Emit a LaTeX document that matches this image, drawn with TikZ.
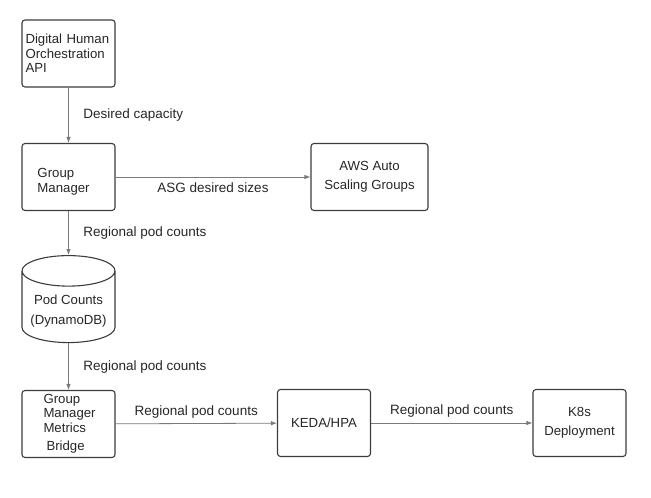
\documentclass[tikz,border=0pt]{standalone}
\usepackage{fontspec}
\setmainfont{Liberation Sans}
\usetikzlibrary{arrows.meta,shapes.geometric}
\definecolor{boxgray}{HTML}{3C3C3C}
\definecolor{edgegray}{HTML}{7A7A7A}
\tikzset{
	block/.style={draw=boxgray, line width=1.1pt, rounded corners=3pt, minimum width=93pt, minimum height=67pt, inner sep=0pt, text=black!85, font=\fontsize{13.2}{14.5}\selectfont},
	store/.style={draw=boxgray, line width=1.1pt, cylinder, shape border rotate=90, aspect=0.4, minimum width=93pt, minimum height=87pt, inner sep=0pt, text=black!85, font=\fontsize{13.2}{20}\selectfont},
	flow/.style={draw=edgegray, line width=0.8pt, -{Latex[length=6pt,width=4.5pt]}},
	lbl/.style={inner sep=0pt, text=black!85, font=\fontsize{13.5}{15}\selectfont},
}

\begin{document}
\begin{tikzpicture}[x=1pt, y=-1pt]
			%%%%% START %%%%%
			
			\useasboundingbox (0, 0) rectangle (651, 498);
			
			\node[block, align=left, text width=86pt] (api) at (68.5, 53.5) {Digital Human\\Orchestration\\API};
			\node[block, align=left, text width=62pt, text height=14pt, text depth=13pt] (gm) at (68.5, 177) {Group\\Manager};
			\node[block, minimum width=117pt, align=center, font=\fontsize{13.2}{19}\selectfont] (asg) at (369.5, 177) {AWS Auto\\Scaling Groups};
			
			\node[store, align=center, text height=34pt, text depth=-2pt] (pods) at (68.5, 307) {Pod Counts\\(DynamoDB)};
			
			\node[block, align=left, text width=50pt] (bridge) at (68.5, 424) {Group\\Manager\\Metrics\\[4pt]\hspace{3pt}Bridge};
			\node[block] (keda) at (324, 423) {KEDA/HPA};
			\node[block, align=center, font=\fontsize{13.2}{19}\selectfont] (k8s) at (579.5, 423) {K8s\\Deployment};
			
			\draw[flow] (api) -- node[lbl, anchor=west, xshift=14.5pt] {Desired capacity} (gm);
			\draw[flow] (gm) -- node[lbl, below=5pt] {ASG desired sizes} (asg);
			\draw[flow] (gm) -- node[lbl, anchor=west, xshift=14.5pt] {Regional pod counts} (pods);
			\draw[flow] (pods) -- node[lbl, anchor=west, xshift=14.5pt] {Regional pod counts} (bridge);
			\draw[flow] (bridge) -- node[lbl, above=5pt] {Regional pod counts} (keda);
			\draw[flow] (keda) -- node[lbl, above=5pt] {Regional pod counts} (k8s);
			
			%%%%% END %%%%%
\end{tikzpicture}
\end{document}
